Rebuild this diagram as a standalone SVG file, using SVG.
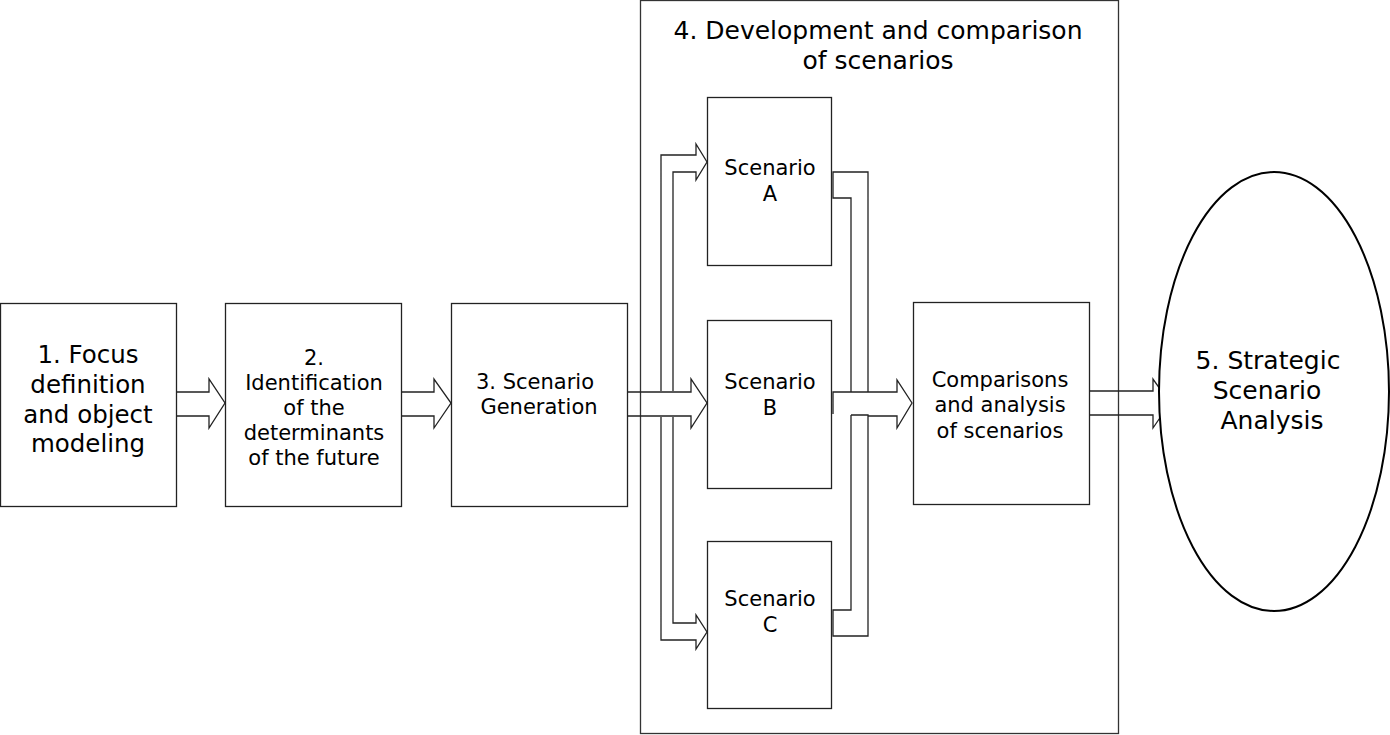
<svg xmlns="http://www.w3.org/2000/svg" width="1390" height="735" viewBox="0 0 1390 735">
<style>
.box{fill:#fff;stroke:#222;stroke-width:1.3}
.big{fill:none;stroke:#333;stroke-width:1.3}
.arr{fill:none;stroke:#222;stroke-width:1.3;stroke-linejoin:miter}
.t{font-family:"DejaVu Sans",Verdana,sans-serif;fill:#000;text-anchor:middle}
.s24{font-size:24.5px}
.s25{font-size:25px}
.s21{font-size:21px}
</style>
<rect x="0" y="0" width="1390" height="735" fill="#fff"/>
<g id="group4">
<rect class="big" x="640.5" y="0.5" width="478" height="733"/>
<text class="t s25" x="878" y="39">4. Development and comparison</text>
<text class="t s25" x="878" y="69">of scenarios</text>
</g>
<g id="connectors">
<polygon class="arr" points="176,392 209,392 209,379 225,403 209,428 209,416 176,416"/>
<polygon class="arr" points="401,392 434,392 434,379 451,403 434,428 434,416 401,416"/>
<polygon class="arr" points="627,392 691,392 691,379 707,403 691,428 691,416 627,416"/>
<polyline class="arr" points="661,391 661,155 696,155 696,144 707,162 696,180 696,172 673,172 673,391"/>
<polyline class="arr" points="661,417 661,640 696,640 696,649 707,632 696,615 696,623 673,623 673,417"/>
<polyline class="arr" points="851,392 851,198 833,198 833,172 868,172 868,392"/>
<polyline class="arr" points="833,414 833,392 897,392 897,380 912,403 897,428 897,416 868,416"/>
<polyline class="arr" points="851,415 868,415 868,636 833,636 833,610 851,610 851,415"/>
<polygon class="arr" points="1089,391 1153,391 1153,379 1170,403 1153,428 1153,415 1089,415"/>
</g>
<g id="n1">
<rect class="box" x="0.5" y="303.5" width="176" height="203"/>
<text class="t s24" x="88" y="363">1. Focus</text>
<text class="t s24" x="88" y="393">definition</text>
<text class="t s24" x="88" y="423">and object</text>
<text class="t s24" x="88" y="452">modeling</text>
</g>
<g id="n2">
<rect class="box" x="225.5" y="303.5" width="176" height="203"/>
<text class="t s21" x="314" y="365">2.</text>
<text class="t s21" x="314" y="390">Identification</text>
<text class="t s21" x="314" y="415">of the</text>
<text class="t s21" x="314" y="440">determinants</text>
<text class="t s21" x="314" y="465">of the future</text>
</g>
<g id="n3">
<rect class="box" x="451.5" y="303.5" width="176" height="203"/>
<text class="t s21" x="535" y="389">3. Scenario</text>
<text class="t s21" x="539" y="414">Generation</text>
</g>
<g id="nA">
<rect class="box" x="707.5" y="97.5" width="124" height="168"/>
<text class="t s21" x="770" y="175">Scenario</text>
<text class="t s21" x="770" y="201">A</text>
</g>
<g id="nB">
<rect class="box" x="707.5" y="320.5" width="124" height="168"/>
<text class="t s21" x="770" y="389">Scenario</text>
<text class="t s21" x="770" y="415">B</text>
</g>
<g id="nC">
<rect class="box" x="707.5" y="541.5" width="124" height="167"/>
<text class="t s21" x="770" y="606">Scenario</text>
<text class="t s21" x="770" y="632">C</text>
</g>
<g id="nComp">
<rect class="box" x="913.5" y="302.5" width="176" height="202"/>
<text class="t s21" x="1000" y="387">Comparisons</text>
<text class="t s21" x="1000" y="412">and analysis</text>
<text class="t s21" x="1000" y="438">of scenarios</text>
</g>
<g id="n5">
<ellipse cx="1274" cy="391.5" rx="115" ry="219.5" fill="#fff" stroke="#000" stroke-width="2"/>
<text class="t s25" x="1268" y="369">5. Strategic</text>
<text class="t s25" x="1267" y="399">Scenario</text>
<text class="t s25" x="1272" y="429">Analysis</text>
</g>
</svg>
